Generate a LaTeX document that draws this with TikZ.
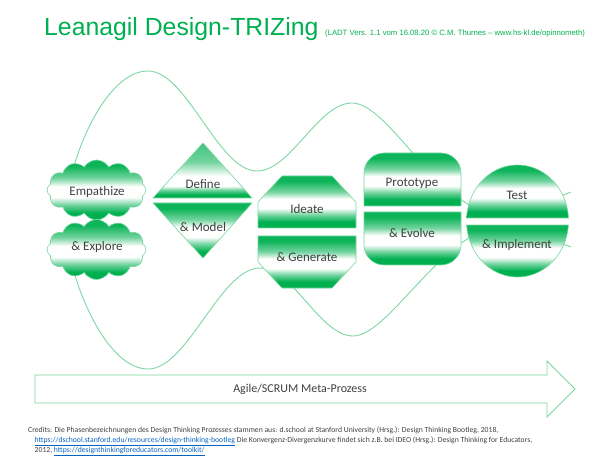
\documentclass[tikz,border=0pt]{standalone}
\usepackage{fontspec}
\setmainfont{Carlito}
\newfontfamily\arialf{Liberation Sans}
\usetikzlibrary{shapes.symbols}

\definecolor{G}{RGB}{0,176,80}
\colorlet{Gb}{G!60!white}
\colorlet{Gt}{G!55!white}
\colorlet{Gt2}{G!95!white}
\colorlet{Gmid}{G!75!white}
\definecolor{edgeG}{RGB}{120,214,160}
\definecolor{curveG}{RGB}{125,214,163}
\definecolor{txt}{RGB}{64,64,64}
\definecolor{linkblue}{RGB}{5,99,193}

\pgfdeclareverticalshading{phaseshade}{100bp}{color(0bp)=(G); color(25bp)=(G); color(31bp)=(G); color(37bp)=(Gb); color(44bp)=(white); color(53bp)=(white); color(60bp)=(Gt); color(70bp)=(Gt2); color(75bp)=(Gt2); color(100bp)=(Gt2)}
\pgfdeclareverticalshading{triupshade}{100bp}{color(0bp)=(G); color(25bp)=(G); color(28bp)=(G); color(32bp)=(Gb); color(36bp)=(white); color(45bp)=(white); color(58bp)=(Gt); color(75bp)=(Gmid); color(100bp)=(Gmid)}

\tikzset{
  phase/.style={shading=phaseshade, draw=edgeG, line width=0.6bp},
  phaseup/.style={shading=triupshade, draw=edgeG, line width=0.6bp},
  curve/.style={draw=curveG, line width=0.9bp},
  lbl/.style={text=txt, font=\fontsize{13bp}{15bp}\selectfont, inner sep=0},
  credit/.style={text=txt, font=\fontsize{7.7bp}{9bp}\selectfont, inner sep=0, anchor=base west},
  arrowline/.style={draw=edgeG, line width=0.9bp, fill=white},
  cloudbox/.style={cloud, cloud puffs=12, cloud puff arc=120, aspect=1.7, inner sep=0, phase},
}

\begin{document}
\begin{tikzpicture}[x=1bp, y=-1bp]
\useasboundingbox (0,0) rectangle (611,459);

% title
\node[anchor=base west, font=\arialf\fontsize{24.8bp}{28bp}\selectfont, text=G, inner sep=0] (title) at (44,36) {Leanagil Design-TRIZing};
\node[anchor=base west, font=\arialf\fontsize{7.7bp}{9bp}\selectfont, text=G, inner sep=0] (subtitle) at (325,36) {(LADT Vers. 1.1 vom 16.08.20 © C.M. Thurnes – www.hs-kl.de/opinnometh)};

% convergence / divergence curves
\draw[curve] (66,200) .. controls (76,140) and (110,71) .. (148,71)
  .. controls (187,71) and (218,171) .. (257,171)
  .. controls (291,171) and (318,103) .. (352,103)
  .. controls (390,103) and (440,214) .. (500,214)
  .. controls (530,214) and (550,200) .. (571,192);
\draw[curve] (66,238) .. controls (76,298) and (110,369) .. (148,369)
  .. controls (188,369) and (220,268) .. (260,268)
  .. controls (293,268) and (320,336) .. (353,336)
  .. controls (390,336) and (445,226) .. (505,226)
  .. controls (530,226) and (550,240) .. (571,247);

% clouds
\node[cloudbox, minimum width=99bp, minimum height=60bp] (emp) at (96.5,190) {};
\node[cloudbox, minimum width=99bp, minimum height=60bp] (expl) at (96.5,249.5) {};
\node[lbl] (t1) at (97,192) {Empathize};
\node[lbl] (t2) at (97,247) {\& Explore};

% diamond
\path[phaseup] (203,143) -- (252,198) -- (153,198) -- cycle;
\path[phase] (153,203) -- (252,203) -- (203,258) -- cycle;
\node[lbl] (t3) at (203,184) {Define};
\node[lbl] (t4) at (203,227) {\& Model};

% octagon
\path[phase] (282,176) -- (332,176) -- (356,202) -- (356,228) -- (258,228) -- (258,202) -- cycle;
\path[phase] (258,236) -- (356,236) -- (356,262) -- (332,288) -- (282,288) -- (258,262) -- cycle;
\node[lbl] (t5) at (307,209) {Ideate};
\node[lbl] (t6) at (307,257) {\& Generate};

% rounded rectangle
\path[phase] (364,206) -- (364,173) .. controls (364,162) and (373,153) .. (384,153) -- (441,153) .. controls (452,153) and (461,162) .. (461,173) -- (461,206) -- cycle;
\path[phase] (364,212) -- (461,212) -- (461,245) .. controls (461,256) and (452,265) .. (441,265) -- (384,265) .. controls (373,265) and (364,256) .. (364,245) -- cycle;
\node[lbl] (t7) at (412,183) {Prototype};
\node[lbl] (t8) at (412,233) {\& Evolve};

% circle halves
\path[phase] plot[domain=3.1:176.9, samples=60] ({517.5+51*cos(\x)},{221-56*sin(\x)}) -- cycle;
\path[phase] plot[domain=4.1:175.9, samples=60] ({517.5+51*cos(\x)},{221+56*sin(\x)}) -- cycle;
\node[lbl] (t9) at (517,195) {Test};
\node[lbl] (t10) at (517,245) {\& Implement};

% meta arrow
\draw[arrowline] (35,375) -- (547,375) -- (547,361) -- (575,389) -- (547,417) -- (547,403) -- (35,403) -- cycle;
\node[lbl, font=\fontsize{12bp}{14bp}\selectfont] (meta) at (300,389) {Agile/SCRUM Meta-Prozess};

% credits
\node[credit] (cr1) at (28,432) {Credits: Die Phasenbezeichnungen des Design Thinking Prozesses stammen aus: d.school at Stanford University (Hrsg.): Design Thinking Bootleg, 2018,};
\node[credit] (cr2) at (34.5,442) {\textcolor{linkblue}{\underline{https://dschool.stanford.edu/resources/design-thinking-bootleg}} Die Konvergenz-Divergenzkurve findet sich z.B. bei IDEO (Hrsg.): Design Thinking for Educators,};
\node[credit] (cr3) at (34.5,452) {2012, \textcolor{linkblue}{\underline{https://designthinkingforeducators.com/toolkit/}}};
\end{tikzpicture}
\end{document}
